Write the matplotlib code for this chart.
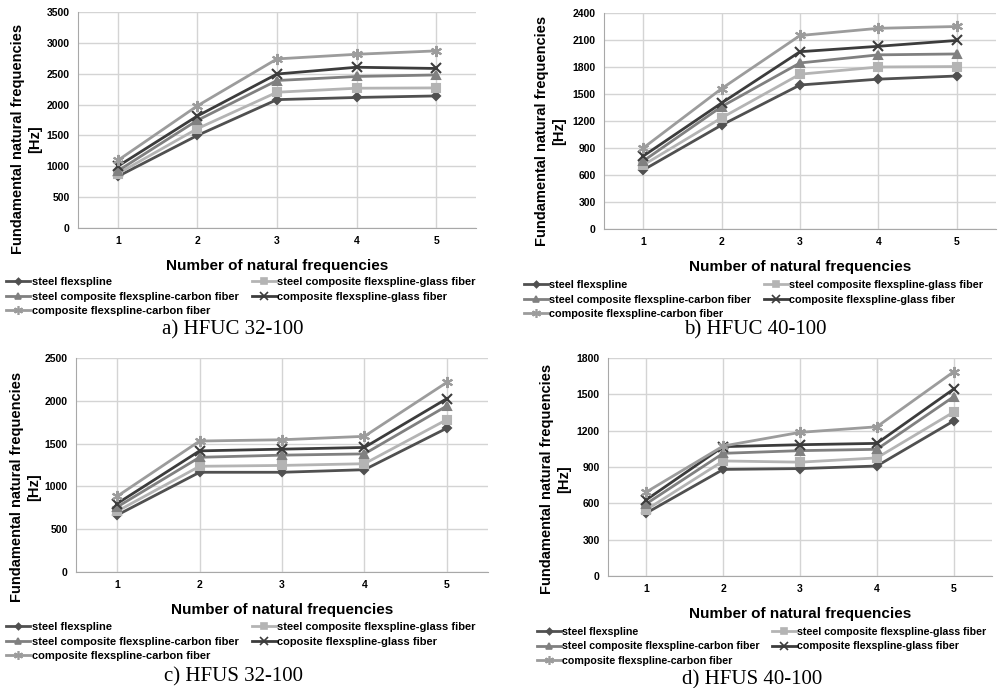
import matplotlib.pyplot as plt
from matplotlib.lines import Line2D

# frequency index on the x axis
modes = [1, 2, 3, 4, 5]

series_names = ['steel flexspline',
                'steel composite flexspline-glass fiber',
                'steel composite flexspline-carbon fiber',
                'composite flexspline-glass fiber',
                'composite flexspline-carbon fiber']
series_names_c = ['steel flexspline',
                  'steel composite flexspline-glass fiber',
                  'steel composite flexspline-carbon fiber',
                  'coposite flexspline-glass fiber',
                  'composite flexspline-carbon fiber']

# a) HFUC 32-100
a_steel = [835, 1500, 2080, 2115, 2140]
a_steel_glass = [880, 1610, 2200, 2265, 2270]
a_steel_carbon = [925, 1745, 2390, 2455, 2480]
a_comp_glass = [1000, 1815, 2495, 2605, 2585]
a_comp_carbon = [1095, 1980, 2740, 2815, 2870]

# b) HFUC 40-100
b_steel = [655, 1155, 1600, 1665, 1700]
b_steel_glass = [710, 1235, 1720, 1800, 1805]
b_steel_carbon = [755, 1360, 1845, 1935, 1945]
b_comp_glass = [810, 1400, 1970, 2030, 2095]
b_comp_carbon = [900, 1560, 2150, 2230, 2250]

# c) HFUS 32-100
c_steel = [665, 1165, 1165, 1195, 1680]
c_steel_glass = [710, 1235, 1245, 1265, 1780]
c_steel_carbon = [760, 1340, 1365, 1380, 1940]
c_comp_glass = [800, 1415, 1435, 1455, 2025]
c_comp_carbon = [885, 1530, 1545, 1585, 2215]

# d) HFUS 40-100
d_steel = [520, 880, 887, 908, 1280]
d_steel_glass = [548, 950, 940, 975, 1353]
d_steel_carbon = [597, 1013, 1035, 1046, 1480]
d_comp_glass = [630, 1068, 1084, 1095, 1543]
d_comp_carbon = [694, 1073, 1186, 1232, 1686]

colors = ['#505050', '#b4b4b4', '#808080', '#3c3c3c', '#9c9c9c']
markers = ['D', 's', '^', 'x', (6, 2, 0)]
msizes = [4, 6, 6, 7, 8]

panels = [
    # axes rect (px), data, ymax, ystep, names, caption, caption pos, legend anchor,
    # legend font size, ylabel anchor (px)
    ([78, 12, 476, 228], [a_steel, a_steel_glass, a_steel_carbon, a_comp_glass, a_comp_carbon],
     3500, 500, series_names, 'a) HFUC 32-100', (233, 330), (6, 277), 8.0, (42, 139)),
    ([604, 13, 996, 229], [b_steel, b_steel_glass, b_steel_carbon, b_comp_glass, b_comp_carbon],
     2400, 300, series_names, 'b) HFUC 40-100', (755, 330), (524, 280), 7.8, (566, 131)),
    ([76, 358, 488, 572], [c_steel, c_steel_glass, c_steel_carbon, c_comp_glass, c_comp_carbon],
     2500, 500, series_names_c, 'c) HFUS 32-100', (233, 677), (6, 622), 8.0, (41, 487)),
    ([608, 358, 992, 576], [d_steel, d_steel_glass, d_steel_carbon, d_comp_glass, d_comp_carbon],
     1800, 300, series_names, 'd) HFUS 40-100', (752, 680), (537, 627), 7.7, (571, 479)),
]

W, H = 1002, 688
fig = plt.figure(figsize=(W / 100, H / 100), dpi=100)
plt.rcParams['font.family'] = ['Liberation Sans', 'DejaVu Sans']

for rect, data, ymax, ystep, names, caption, cpos, lpos, lfs, ylpos in panels:
    x0, y0, x1, y1 = rect
    ax = fig.add_axes([x0 / W, 1 - y1 / H, (x1 - x0) / W, (y1 - y0) / H])
    handles = []
    for vals, c, m, ms, name in zip(data, colors, markers, msizes, names):
        ax.plot(modes, vals, color=c, marker=m, markersize=ms, lw=2,
                mew=1.5, clip_on=False, zorder=3, label=name)
        handles.append(Line2D([], [], color=c, marker=m, markersize=ms * 0.8, lw=2, mew=1.2))
    ax.set_xlim(0.5, 5.5)
    ax.set_ylim(0, ymax)
    ax.set_yticks(range(0, ymax + 1, ystep))
    ax.set_xticks(modes)
    ax.grid(True, color='#d4d4d4', lw=1)
    ax.set_axisbelow(True)
    for s in ['top', 'right']:
        ax.spines[s].set_visible(False)
    for s in ['left', 'bottom']:
        ax.spines[s].set_color('#a8a8a8')
    ax.tick_params(length=0, labelsize=7.5, pad=6)
    for t in ax.get_xticklabels() + ax.get_yticklabels():
        t.set_fontweight('bold')
    ax.set_xlabel('Number of natural frequencies', fontsize=11, fontweight='bold', labelpad=9)
    ax.set_ylabel('Fundamental natural frequencies\n[Hz]', fontsize=10.5, fontweight='bold',
                  linespacing=1.3)
    ax.yaxis.set_label_coords(ylpos[0] / W, 1 - ylpos[1] / H, transform=fig.transFigure)

    # legend in two columns, row-major order
    order = [0, 2, 4, 1, 3]
    fig.legend([handles[i] for i in order], [names[i] for i in order],
               loc='upper left', bbox_to_anchor=(lpos[0] / W, 1 - lpos[1] / H),
               ncol=2, frameon=False, handlelength=2.2, handletextpad=0.1,
               columnspacing=1.2, labelspacing=0.42, borderpad=0, borderaxespad=0,
               prop={'size': lfs, 'weight': 'bold'})

    fig.text(cpos[0] / W, 1 - cpos[1] / H, caption, ha='center', va='center',
             fontsize=15, family='Liberation Serif')

fig.savefig('out.png', dpi=100)
